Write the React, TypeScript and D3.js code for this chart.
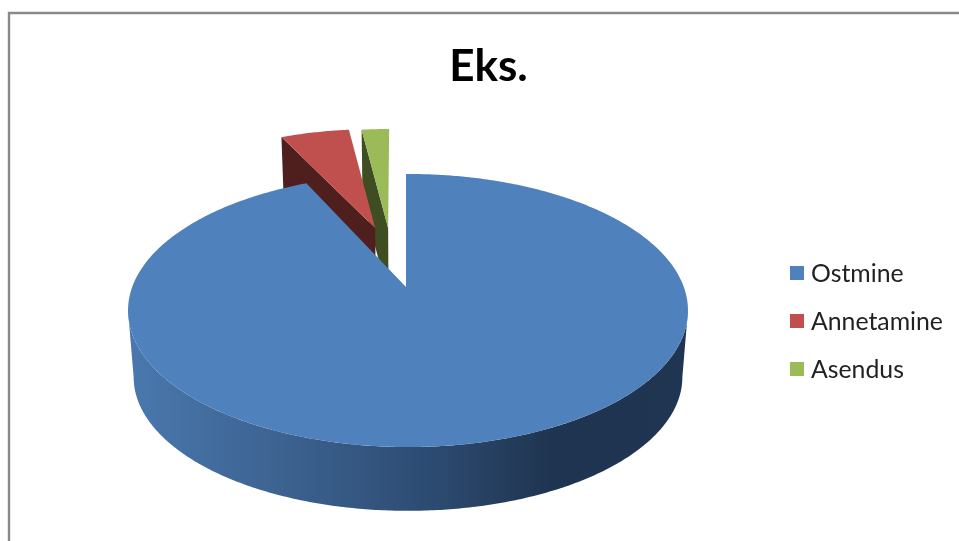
import React from "react";
import * as d3 from "d3";

const categories = ["Ostmine", "Annetamine", "Asendus"];
const values = [93, 5, 2];
const colors = ["#4f81bd", "#c0504d", "#9bbb59"];
const wallColors = ["#1f3552", "#4f1f1d", "#3f4d22"];
const explode: [number, number][] = [[0, 0], [-0.144, -0.5], [-0.086, -0.5]];
const apexNudge: [number, number][] = [[-0.00725, 0], [0.015, 0.018], [0.008, 0.018]];

const W = 959, H = 541;
const X0 = 408, Y0 = 287;      // projected pie centre
const K = 0.172, B = 132.5, R = 275.8; // perspective strength and radii
const DROP = 67, SHRINK = 0.98;  // extrusion of the lower face

type P = [number, number];
const top = (u: number, v: number): P => {
  const w = 1 - K * v;
  return [X0 + (R * u) / w, Y0 + (B * v) / w];
};
const low = (u: number, v: number): P => {
  const [x, y] = top(u, v);
  return [X0 + SHRINK * (x - X0), Y0 + DROP + SHRINK * (y - Y0)];
};
const onRim = (a: number, o: [number, number]): [number, number] => [Math.sin(a) + o[0], -Math.cos(a) + o[1]];

const sample = (a0: number, a1: number) => {
  const n = Math.max(2, Math.ceil(Math.abs(a1 - a0) / 0.01));
  return d3.range(n + 1).map((i) => a0 + ((a1 - a0) * i) / n);
};

const line = d3.line<P>().curve(d3.curveLinear);
const pieAngles = d3.pie<number>().sort(null)(values);

const legendY = d3.scalePoint<string>().domain(categories).range([273, 369]);

export default function App() {
  const wideAngle = Math.acos(-K);
  const wallAngles = sample(wideAngle, 2 * Math.PI - wideAngle);
  const wall = [
    ...wallAngles.map((a) => top(...onRim(a, explode[0]))),
    ...[...wallAngles].reverse().map((a) => low(...onRim(a, explode[0]))),
  ];
  const faces = pieAngles.map((s, i) => {
    const o = explode[i];
    const n = apexNudge[i];
    const startPad = i === 0 ? -0.0085 : 0;
    const rim = sample(s.startAngle + startPad, s.endAngle).map((a) => top(...onRim(a, o)));
    return [top(o[0] + n[0], o[1] + n[1]), ...rim] as P[];
  });
  const radialWalls = pieAngles.map((s, i) => {
    const o = explode[i];
    const n = apexNudge[i];
    const [u, v] = onRim(s.startAngle, o);
    const a: [number, number] = [o[0] + n[0], o[1] + n[1]];
    return [top(a[0], a[1]), top(u, v), low(u, v), low(a[0], a[1])] as P[];
  });
  const wallX = (f: number) => 128 + f * 560;

  return (
    <svg
      width={W}
      height={H}
      viewBox={`0 0 ${W} ${H}`}
      style={{ position: "fixed", left: 0, top: 0, background: "#fff" }}
    >
      <defs>
        <linearGradient id="rim" gradientUnits="userSpaceOnUse" x1={wallX(0)} x2={wallX(1)} y1="0" y2="0">
          <stop offset="0" stopColor="#4a78ae" />
          <stop offset="0.28" stopColor="#3c6290" />
          <stop offset="0.55" stopColor="#2c4a70" />
          <stop offset="0.76" stopColor="#1f3450" />
          <stop offset="1" stopColor="#1f3552" />
        </linearGradient>
        <filter id="soft" filterUnits="userSpaceOnUse" x="0" y="0" width={W} height={H} colorInterpolationFilters="sRGB">
          <feGaussianBlur stdDeviation="0.45" />
        </filter>
      </defs>
      <g filter="url(#soft)">
        <path d={`M9 ${H + 4}V13H${W + 4}`} fill="none" stroke="#8a8a8a" strokeWidth={2.4} />
        <text x={488.5} y={81} textAnchor="middle" fontFamily="Lato" fontWeight={700} fontSize={44} fill="#000">
          Eks.
        </text>

        {[2, 1].map((i) => (
          <g key={categories[i]}>
            <path d={line(radialWalls[i]) + "Z"} fill={wallColors[i]} />
            <path d={line(faces[i]) + "Z"} fill={colors[i]} />
          </g>
        ))}
        <path d={line(wall) + "Z"} fill="url(#rim)" />
        <path d={line(faces[0]) + "Z"} fill={colors[0]} />

        {categories.map((c, i) => (
          <g key={c}>
            <rect x={790} y={legendY(c)! - 7} width={14} height={14} fill={colors[i]} />
            <text x={811} y={legendY(c)! + 9} fontFamily="Lato" fontSize={24.8} fill="#222">
              {c}
            </text>
          </g>
        ))}
      </g>
    </svg>
  );
}
